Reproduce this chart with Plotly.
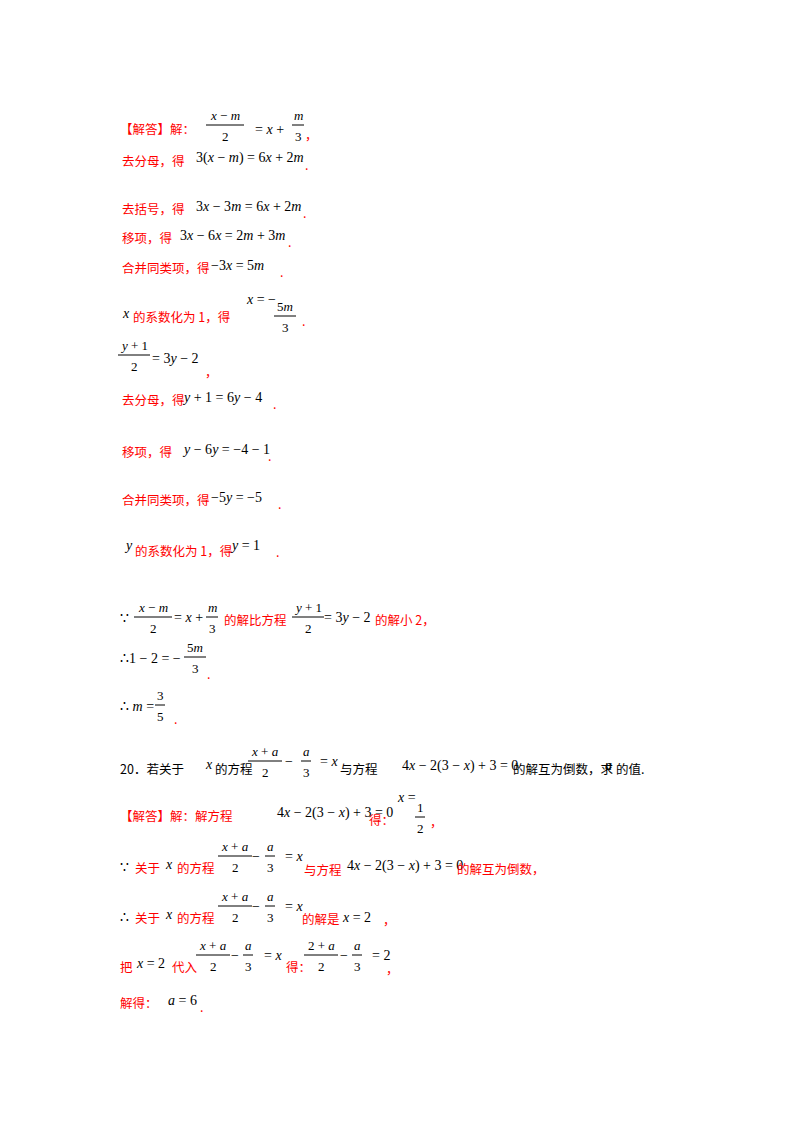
import re
import plotly.graph_objects as go

RED = "#FF0000"
BLK = "#000000"
CJK = "Noto Sans CJK SC, Noto Sans CJK JP, serif"
MATH = "Liberation Serif, Times New Roman, serif"

# Text segments: (x, y, text, kind)  kind: 'r' red CJK, 'k' black CJK, 'm' math
segments = [
    (118, 128, "【解答】解：", "r"), (253, 129, "= x +", "m"), (303, 134, "，", "r"),
    (120, 160, "去分母，得", "r"), (194, 158, "3(x − m) = 6x + 2m", "m"), (303, 164, ".", "r"),
    (120, 208, "去括号，得", "r"), (194, 206, "3x − 3m = 6x + 2m", "m"), (301, 212, ".", "r"),
    (120, 237, "移项，得", "r"), (178, 235, "3x − 6x = 2m + 3m", "m"), (286, 241, ".", "r"),
    (120, 267, "合并同类项，得", "r"), (209, 265, "−3x = 5m", "m"), (278, 271, ".", "r"),
    (120, 313, "x", "m"), (131, 316, "的系数化为 1，得", "r"), (244, 299, "x = −", "m"), (300, 320, ".", "r"),
    (150, 358, "= 3y − 2", "m"), (203, 371, "，", "r"),
    (120, 399, "去分母，得", "r"), (180, 397, "y + 1 = 6y − 4", "m"), (271, 403, ".", "r"),
    (120, 451, "移项，得", "r"), (180, 449, "y − 6y = −4 − 1", "m"), (266, 455, ".", "r"),
    (120, 499, "合并同类项，得", "r"), (209, 497, "−5y = −5", "m"), (276, 503, ".", "r"),
    (122, 545, "y", "m"), (133, 550, "的系数化为 1，得", "r"), (228, 545, "y = 1", "m"), (274, 551, ".", "r"),
    (118, 618, "∵", "m"), (172, 617, "= x +", "m"), (222, 619, "的解比方程", "r"), (322, 617, "= 3y − 2", "m"),
    (373, 619, "的解小 2，", "r"),
    (118, 658, "∴1 − 2 = −", "m"), (205, 673, ".", "r"),
    (118, 706, "∴ m =", "m"), (172, 718, ".", "r"),
    (118, 768, "20．若关于", "k"), (203, 764, "x", "m"), (213, 768, "的方程", "k"), (283, 761, "−", "m"),
    (318, 761, "= x", "m"), (338, 768, "与方程", "k"), (400, 766, "4x − 2(3 − x) + 3 = 0", "m"),
    (511, 768, "的解互为倒数，求", "k"), (603, 765, "a", "m"), (614, 768, "的值.", "k"),
    (118, 815, "【解答】解：解方程", "r"), (275, 813, "4x − 2(3 − x) + 3 = 0", "m"), (367, 819, "得：", "r"),
    (395, 797, "x =", "m"), (428, 821, "，", "r"),
    (118, 867, "∵", "m"), (133, 867, "关于", "r"), (163, 864, "x", "m"), (175, 867, "的方程", "r"),
    (250, 856, "−", "m"), (283, 856, "= x", "m"), (302, 869, "与方程", "r"),
    (345, 866, "4x − 2(3 − x) + 3 = 0", "m"), (455, 868, "的解互为倒数，", "r"),
    (118, 917, "∴", "m"), (133, 917, "关于", "r"), (163, 914, "x", "m"), (175, 917, "的方程", "r"),
    (250, 906, "−", "m"), (283, 906, "= x", "m"), (300, 918, "的解是", "r"), (340, 917, "x = 2", "m"),
    (381, 919, "，", "r"),
    (118, 966, "把", "r"), (134, 963, "x = 2", "m"), (170, 966, "代入", "r"),
    (229, 955, "−", "m"), (262, 955, "= x", "m"), (284, 966, "得：", "r"),
    (338, 955, "−", "m"), (370, 955, "= 2", "m"), (384, 968, "，", "r"),
    (118, 1002, "解得：", "r"), (166, 1000, "a = 6", "m"), (198, 1006, ".", "r"),
]

# Fractions: (x_center, y_line, numerator, denominator, width)
fractions = [
    (225, 125, "x − m", "2", 38), (298, 125, "m", "3", 12),
    (285, 316, "5m", "3", 22),
    (134, 355, "y + 1", "2", 32),
    (153, 617, "x − m", "2", 38), (212, 617, "m", "3", 12),
    (308, 617, "y + 1", "2", 32),
    (195, 657, "5m", "3", 22),
    (160, 705, "3", "5", 10),
    (265, 761, "x + a", "2", 34), (306, 761, "a", "3", 10),
    (420, 817, "1", "2", 10),
    (235, 856, "x + a", "2", 34), (270, 856, "a", "3", 10),
    (235, 906, "x + a", "2", 34), (270, 906, "a", "3", 10),
    (213, 955, "x + a", "2", 34), (248, 955, "a", "3", 10),
    (321, 955, "2 + a", "2", 34), (357, 955, "a", "3", 10),
]


def mathfmt(s):
    return re.sub(r"([A-Za-z])", r"<i>\1</i>", s)


fig = go.Figure()
anns = []
for x, y, t, kind in segments:
    if kind == "m":
        anns.append(dict(x=x, y=y, text=mathfmt(t), xanchor="left", yanchor="middle",
                         showarrow=False, font=dict(family=MATH, size=14, color=BLK)))
    else:
        anns.append(dict(x=x, y=y, text=t, xanchor="left", yanchor="middle", showarrow=False,
                         font=dict(family=CJK, size=12.5, color=RED if kind == "r" else BLK)))

shapes = []
for xc, yl, num, den, w in fractions:
    anns.append(dict(x=xc, y=yl - 10, text=mathfmt(num), xanchor="center", yanchor="middle",
                     showarrow=False, font=dict(family=MATH, size=13, color=BLK)))
    anns.append(dict(x=xc, y=yl + 11, text=mathfmt(den), xanchor="center", yanchor="middle",
                     showarrow=False, font=dict(family=MATH, size=13, color=BLK)))
    shapes.append(dict(type="line", x0=xc - w / 2, x1=xc + w / 2, y0=yl, y1=yl,
                       line=dict(color=BLK, width=1)))

fig.update_layout(
    width=800, height=1132, margin=dict(l=0, r=0, t=0, b=0),
    paper_bgcolor="white", plot_bgcolor="white",
    xaxis=dict(range=[8, 808], visible=False, fixedrange=True),
    yaxis=dict(range=[1140, 8], visible=False, fixedrange=True),
    annotations=anns, shapes=shapes, showlegend=False,
)
fig.write_html("out.html")
